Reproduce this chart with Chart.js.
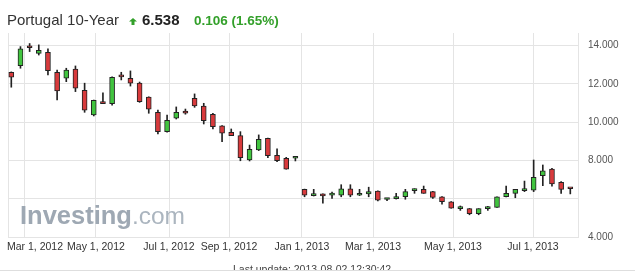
<!DOCTYPE html>
<html>
<head>
<meta charset="utf-8">
<script src="https://cdn.jsdelivr.net/npm/chart.js@4.4.1/dist/chart.umd.min.js"></script>
<style>
  html, body { margin: 0; padding: 0; background: #fff; }
  body { width: 635px; height: 272px; overflow: hidden; position: relative;
         font-family: "Liberation Sans", Arial, sans-serif; }
  .t { position: absolute; line-height: 1; white-space: nowrap; }
  #name { left: 7px; top: 12px; font-size: 15px; color: #333; }
  #arrow { position: absolute; left: 129px; top: 18px; }
  #last { left: 142px; top: 12px; font-size: 15px; font-weight: bold; color: #222; }
  #chg { left: 194px; top: 13.6px; font-size: 13.5px; font-weight: bold; color: #33a02a; }
  #wrap { position: absolute; left: 0; top: 0; width: 635px; height: 262px; }
  #foot { position: absolute; left: 0; top: 258px; width: 635px; height: 12px;
          overflow: hidden; border-bottom: 1px solid #dedede; }
  #foot span { position: absolute; left: 233px; top: 6px; font-size: 10.5px; color: #444; }
</style>
</head>
<body>
<div id="wrap"><canvas id="chart"></canvas></div>
<span class="t" id="name">Portugal 10-Year</span>
<svg id="arrow" width="8" height="7" viewBox="0 0 8 7"><polygon points="4,0 8,3.5 5.5,3.5 5.5,7 2.5,7 2.5,3.5 0,3.5" fill="#33a02a"/></svg>
<span class="t" id="last">6.538</span>
<span class="t" id="chg">0.106 (1.65%)</span>
<div id="foot"><span class="t">Last update: 2013-08-02 12:30:42</span></div>

<script>
// candle values, one per period
const open  = [12.60, 12.95, 13.90, 13.59, 13.64, 12.60, 12.29, 12.76, 11.66, 10.37,
               10.98, 10.96, 12.38, 12.29, 12.03, 11.30, 10.51, 9.50, 10.20, 10.58,
               11.24, 10.84, 10.41, 9.80, 9.47, 9.29, 8.02, 8.54, 9.15, 8.27,
               8.11, 8.11, 6.49, 6.16, 6.25, 6.19, 6.18, 6.51, 6.18, 6.25,
               6.40, 5.96, 6.00, 6.10, 6.42, 6.49, 6.37, 6.10, 5.84, 5.48,
               5.48, 5.22, 5.48, 5.55, 6.10, 6.28, 6.42, 6.44, 7.20, 7.55,
               6.86, 6.54];
const high  = [12.62, 13.94, 14.10, 14.03, 13.82, 12.72, 12.81, 12.93, 12.03, 11.15,
               11.53, 12.36, 12.60, 12.67, 12.09, 11.32, 10.63, 10.37, 10.79, 10.68,
               11.47, 10.98, 10.46, 9.82, 9.64, 9.50, 8.80, 9.33, 9.17, 8.60,
               8.16, 8.21, 6.50, 6.49, 6.26, 6.35, 6.73, 6.73, 6.49, 6.60,
               6.41, 6.02, 6.28, 6.49, 6.52, 6.66, 6.38, 6.11, 5.85, 5.62,
               5.49, 5.48, 5.60, 6.10, 6.66, 6.49, 6.92, 8.02, 7.76, 7.59,
               6.89, 6.55];
const low   = [11.82, 12.81, 13.68, 13.50, 12.46, 11.15, 12.11, 11.59, 10.51, 10.32,
               10.96, 10.88, 12.20, 11.88, 11.03, 10.46, 9.38, 9.47, 10.16, 10.41,
               10.77, 9.90, 9.64, 8.98, 9.29, 7.98, 7.97, 8.51, 8.14, 7.93,
               7.54, 7.97, 6.10, 6.14, 5.76, 6.02, 6.10, 6.10, 6.16, 6.10,
               5.88, 5.90, 5.98, 5.97, 6.28, 6.28, 6.02, 5.72, 5.50, 5.39,
               5.16, 5.16, 5.39, 5.55, 6.09, 6.05, 6.37, 6.37, 6.68, 6.66,
               6.28, 6.25];
const close = [12.34, 13.82, 13.88, 13.75, 12.68, 11.62, 12.72, 11.77, 10.62, 11.14,
               10.96, 12.34, 12.36, 12.03, 11.07, 10.67, 9.50, 10.09, 10.51, 10.46,
               10.84, 10.07, 9.76, 9.42, 9.29, 8.14, 8.58, 9.10, 8.25, 7.98,
               7.54, 8.21, 6.18, 6.16, 6.14, 6.19, 6.51, 6.18, 6.18, 6.37,
               5.92, 5.96, 6.00, 6.37, 6.46, 6.28, 6.07, 5.84, 5.50, 5.48,
               5.22, 5.48, 5.58, 6.10, 6.28, 6.49, 6.48, 7.12, 7.46, 6.77,
               6.49, 6.52];

// date labels and where they fall along the candle index
const tickLabels = ['Mar 1, 2012', 'May 1, 2012', 'Jul 1, 2012', 'Sep 1, 2012',
                    'Jan 1, 2013', 'Mar 1, 2013', 'May 1, 2013', 'Jul 1, 2013'];
const tickAt = [1.39, 9.24, 17.21, 23.76, 31.72, 39.47, 48.2, 56.93];

const yTicks = [4, 6, 8, 10, 12, 14];
const hiddenYLabels = [6];

const GRID = '#e4e4e4';
const UP = '#41c43f';
const DOWN = '#d83a3c';
const EDGE = '#222';

// date labels under the axis, first one kept inside the plot
const xLabels = {
  id: 'xLabels',
  afterDraw(chart) {
    const { ctx, chartArea, scales: { x } } = chart;
    ctx.save();
    ctx.font = '10.5px "Liberation Sans", Arial, sans-serif';
    ctx.fillStyle = '#333';
    ctx.textBaseline = 'middle';
    ctx.textAlign = 'left';
    tickLabels.forEach((txt, i) => {
      const w = ctx.measureText(txt).width;
      let left = x.getPixelForValue(tickAt[i]) - w / 2;
      if (left < chartArea.left - 1) left = chartArea.left - 1;
      ctx.fillText(txt, left, chartArea.bottom + 10);
    });
    ctx.restore();
  }
};

// Investing.com watermark
const watermark = {
  id: 'watermark',
  beforeDatasetsDraw(chart) {
    const ctx = chart.ctx;
    ctx.save();
    ctx.textBaseline = 'alphabetic';
    ctx.font = 'bold 25.5px "Liberation Sans", Arial, sans-serif';
    ctx.fillStyle = '#9ea8b3';
    ctx.fillText('Investing', 20, 224);
    const w = ctx.measureText('Investing').width;
    ctx.font = '24.5px "Liberation Sans", Arial, sans-serif';
    ctx.fillStyle = '#abb5bf';
    ctx.fillText('.com', 20 + w, 224);
    ctx.restore();
  }
};

const bodies = open.map((o, i) => ({ x: i, y: [o, close[i]] }));
const wicks = low.map((l, i) => ({ x: i, y: [l, high[i]] }));

new Chart(document.getElementById('chart'), {
  type: 'bar',
  data: {
    datasets: [
      {
        data: bodies,
        order: 0,
        grouped: false,
        barThickness: 5,
        minBarLength: 2,
        borderWidth: 1,
        borderColor: EDGE,
        borderSkipped: false,
        backgroundColor: (c) => close[c.dataIndex] >= open[c.dataIndex] ? UP : DOWN
      },
      {
        data: wicks,
        order: 1,
        grouped: false,
        barThickness: 1,
        borderWidth: 0,
        backgroundColor: EDGE
      }
    ]
  },
  options: {
    responsive: true,
    maintainAspectRatio: false,
    animation: false,
    layout: { autoPadding: false, padding: { left: 8, top: 33, right: 0, bottom: 0 } },
    plugins: { legend: { display: false }, tooltip: { enabled: false } },
    scales: {
      x: {
        type: 'linear',
        min: -0.36,
        max: 61.84,
        offset: false,
        afterBuildTicks: (s) => { s.ticks = [s.min, ...tickAt].map(v => ({ value: v })); },
        afterFit: (s) => { s.height = 25; },
        ticks: { display: false },
        grid: { color: GRID, drawTicks: false, offset: false },
        border: { display: true, color: GRID }
      },
      y: {
        position: 'right',
        min: 4,
        max: 14.65,
        afterBuildTicks: (s) => { s.ticks = yTicks.map(v => ({ value: v })); },
        afterFit: (s) => { s.width = 57; },
        ticks: {
          padding: 10,
          color: '#555',
          font: { size: 10, family: '"Liberation Sans", Arial, sans-serif' },
          callback: (v) => hiddenYLabels.includes(v) ? '' : v.toFixed(3)
        },
        grid: { color: GRID, drawTicks: false },
        border: { display: true, color: GRID }
      }
    }
  },
  plugins: [xLabels, watermark]
});
</script>
</body>
</html>
